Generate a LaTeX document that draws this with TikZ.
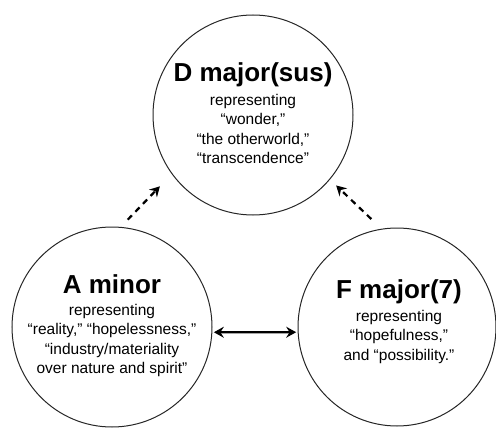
\documentclass[tikz,border=0pt]{standalone}
\usepackage{fontspec}
\setmainfont{Liberation Sans}
\usetikzlibrary{arrows.meta,calc}
\begin{document}
\begin{tikzpicture}[x=1pt,y=-1pt,
  chord/.style={circle,draw=black!85,line width=1pt,minimum size=200pt,inner sep=0pt},
  title/.style={font=\fontsize{26}{30}\selectfont\bfseries,inner sep=0pt,anchor=base},
  body/.style={font=\fontsize{15.5}{19.5}\selectfont,align=center,inner sep=0pt,anchor=north},
  dasharrow/.style={line width=2.2pt,dash pattern=on 6pt off 5pt,-{Stealth[length=10pt,width=11pt,inset=3.5pt]}},
  bothway/.style={line width=2.1pt,{Stealth[length=10pt,width=11pt,inset=3.5pt]}-{Stealth[length=10pt,width=11pt,inset=3.5pt]}}
]
\useasboundingbox (0,0) rectangle (496,428);

\node[chord] (D) at (253,115) {};
\node[chord] (A) at (112,327) {};
\node[chord,minimum size=198pt] (F) at (397,327) {};

\node[title] (Dt) at (253,82) {D major(sus)};
\node[body] (Db) at (253,93.7) {representing\\“wonder,”\\“the otherworld,”\\“transcendence”};

\node[title] (At) at (112,293.3) {A minor};
\node[body] (Ab) at (112,303.7) {representing\\“reality,” “hopelessness,”\\“industry/materiality\\over nature and spirit”};

\node[title] (Ft) at (399,298.3) {F major(7)};
\node[body] (Fb) at (399,309.7) {representing\\“hopefulness,”\\and “possibility.”};

\draw[dasharrow,shorten <=10pt,shorten >=17pt] (A.85.6) -- (D.216.5);
\draw[dasharrow,shorten <=14pt,shorten >=8.5pt] (F.99.3) -- (D.320.9);
\draw[bothway,shorten <=1.5pt,shorten >=1.5pt] (A.-3.4) -- (F.183.4);
\end{tikzpicture}
\end{document}
